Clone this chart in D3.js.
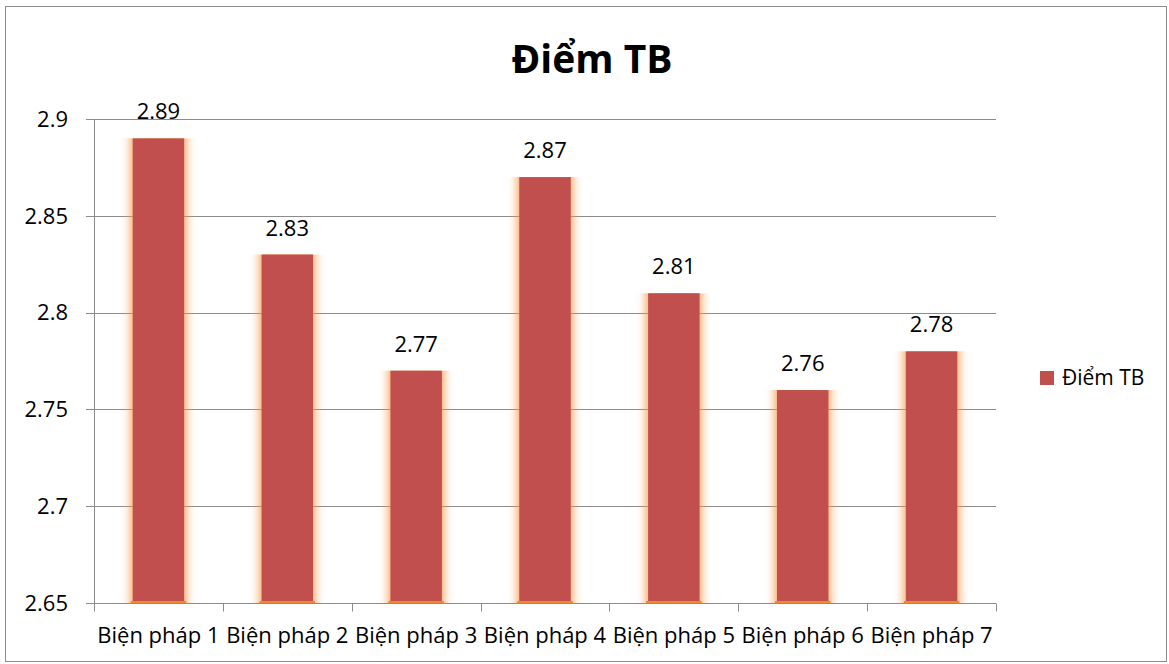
<!DOCTYPE html>
<html>
<head>
<meta charset="utf-8">
<script src="https://cdn.jsdelivr.net/npm/d3@7"></script>
<style>
  body { margin: 0; background: #fff; }
  svg { font-family: "Open Sans", "Noto Sans", sans-serif; }
</style>
</head>
<body>
<div id="chart"></div>
<script>
const categories = ["Biện pháp 1", "Biện pháp 2", "Biện pháp 3", "Biện pháp 4", "Biện pháp 5", "Biện pháp 6", "Biện pháp 7"];
const scores = [2.89, 2.83, 2.77, 2.87, 2.81, 2.76, 2.78];
const yTicks = [2.65, 2.7, 2.75, 2.8, 2.85, 2.9];
const seriesName = "Điểm TB";

const width = 1169, height = 664;
const margin = { top: 119, right: 173, bottom: 61, left: 94 };

const svg = d3.select("#chart").append("svg")
  .attr("width", width)
  .attr("height", height);

// orange glow on the sides of the bars
const defs = svg.append("defs");
const glow = defs.append("filter").attr("id", "glow")
  .attr("x", "-50%").attr("y", "0%").attr("width", "200%").attr("height", "100%");
glow.append("feMorphology").attr("in", "SourceAlpha").attr("operator", "dilate").attr("radius", "2 0").attr("result", "d");
glow.append("feGaussianBlur").attr("in", "d").attr("stdDeviation", "5 0").attr("result", "b");
glow.append("feFlood").attr("flood-color", "#f79646").attr("flood-opacity", 0.9);
glow.append("feComposite").attr("in2", "b").attr("operator", "in").attr("result", "g");
const merge = glow.append("feMerge");
merge.append("feMergeNode").attr("in", "g");
merge.append("feMergeNode").attr("in", "SourceGraphic");

svg.append("rect")
  .attr("x", 5.5).attr("y", 6.5)
  .attr("width", width - 8).attr("height", height - 9)
  .attr("fill", "none").attr("stroke", "#8c8c8c");

svg.append("text")
  .attr("x", 592).attr("y", 73)
  .attr("text-anchor", "middle")
  .style("font-size", "39px").style("font-weight", "bold")
  .text(seriesName);

const x = d3.scaleBand()
  .domain(categories)
  .range([margin.left, width - margin.right]);

const y = d3.scaleLinear()
  .domain([2.65, 2.9])
  .range([height - margin.bottom, margin.top]);

// gridlines
svg.append("g")
  .selectAll("line")
  .data(yTicks)
  .join("line")
  .attr("x1", margin.left - 8).attr("x2", width - margin.right)
  .attr("y1", (d) => Math.round(y(d)) + 0.5).attr("y2", (d) => Math.round(y(d)) + 0.5)
  .attr("stroke", "#8c8c8c");

svg.append("g")
  .selectAll("text")
  .data(yTicks)
  .join("text")
  .attr("x", 68).attr("y", (d) => y(d))
  .attr("dy", "0.35em")
  .attr("text-anchor", "end")
  .style("font-size", "22px")
  .text((d) => d3.format("")(+d.toFixed(2)));

// y axis line
svg.append("line")
  .attr("x1", margin.left + 0.5).attr("x2", margin.left + 0.5)
  .attr("y1", margin.top).attr("y2", height - margin.bottom)
  .attr("stroke", "#8c8c8c");

const barW = x.bandwidth() * 0.4;
const bars = svg.append("g");

bars.selectAll("rect.bar")
  .data(scores)
  .join("rect")
  .attr("class", "bar")
  .attr("x", (d, i) => x(categories[i]) + (x.bandwidth() - barW) / 2)
  .attr("y", (d) => y(d))
  .attr("width", barW)
  .attr("height", (d) => y(2.65) - y(d))
  .attr("fill", "#c0504d")
  .attr("filter", "url(#glow)");

// orange edge along the base of each bar
bars.selectAll("rect.base")
  .data(scores)
  .join("rect")
  .attr("class", "base")
  .attr("x", (d, i) => x(categories[i]) + (x.bandwidth() - barW) / 2 - 2)
  .attr("y", y(2.65) - 2)
  .attr("width", barW + 4)
  .attr("height", 3)
  .attr("fill", "#f0882e");

svg.append("g")
  .selectAll("text")
  .data(scores)
  .join("text")
  .attr("x", (d, i) => x(categories[i]) + x.bandwidth() / 2)
  .attr("y", (d) => y(d) - 19)
  .attr("text-anchor", "middle")
  .style("font-size", "22px")
  .text((d) => d.toFixed(2));

// x axis
const base = Math.round(y(2.65)) + 0.5;
svg.append("line")
  .attr("x1", margin.left).attr("x2", width - margin.right)
  .attr("y1", base).attr("y2", base)
  .attr("stroke", "#8c8c8c");

const tickXs = categories.map((c) => x(c)).concat([x.range()[1]]);
svg.append("g")
  .selectAll("line")
  .data(tickXs)
  .join("line")
  .attr("x1", (d) => Math.round(d) + 0.5).attr("x2", (d) => Math.round(d) + 0.5)
  .attr("y1", base).attr("y2", base + 8)
  .attr("stroke", "#8c8c8c");

svg.append("g")
  .selectAll("text")
  .data(categories)
  .join("text")
  .attr("x", (d) => x(d) + x.bandwidth() / 2)
  .attr("y", 643)
  .attr("text-anchor", "middle")
  .style("font-size", "22px")
  .text((d) => d);

// legend
svg.append("rect")
  .attr("x", 1040).attr("y", 371)
  .attr("width", 14).attr("height", 14)
  .attr("fill", "#c0504d");
svg.append("text")
  .attr("x", 1062).attr("y", 378)
  .attr("dy", "0.35em")
  .style("font-size", "21px")
  .text(seriesName);
</script>
</body>
</html>
